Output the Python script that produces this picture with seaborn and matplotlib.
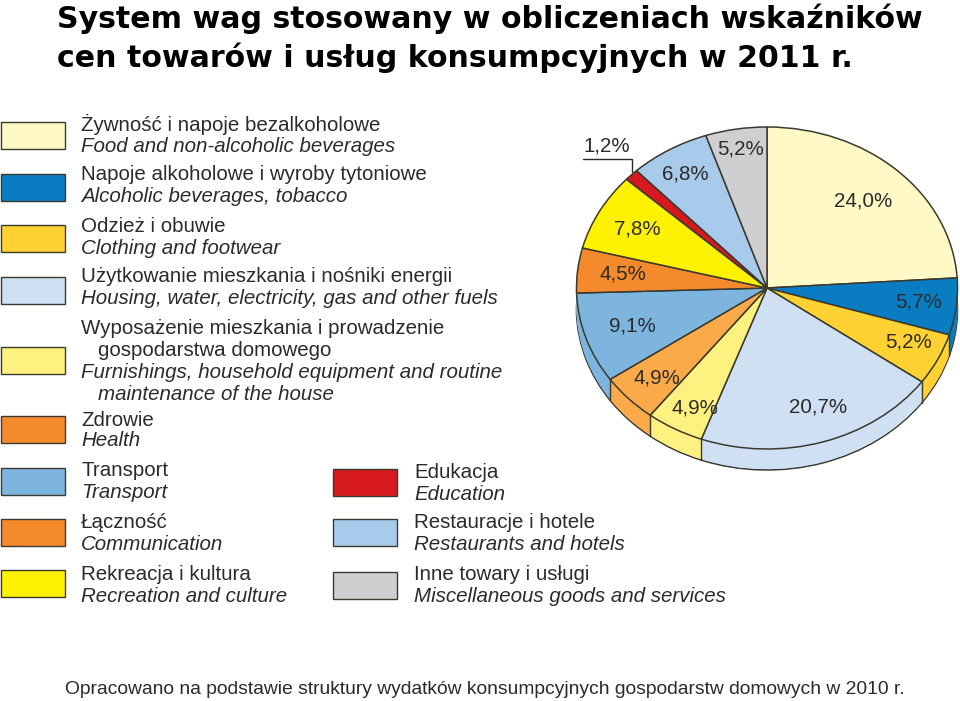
import matplotlib
matplotlib.use("Agg")
import matplotlib.pyplot as plt
from matplotlib.patches import Rectangle
import numpy as np
import seaborn as sns

sns.set_theme(style="white")
plt.rcParams["font.family"] = ["Liberation Sans", "DejaVu Sans"]

# dane z wykresu, kolejnosc jak w legendzie
values = [24.0, 5.7, 5.2, 20.7, 4.9, 4.9, 9.1, 4.5, 7.8, 1.2, 6.8, 5.2]
value_labels = ["24,0%", "5,7%", "5,2%", "20,7%", "4,9%", "4,9%",
                "9,1%", "4,5%", "7,8%", "1,2%", "6,8%", "5,2%"]
pie_colors = ["#FFF9C6", "#0A7DC2", "#FFD133", "#CFE0F3", "#FFF17F", "#FBAA4A",
              "#7DB5DE", "#F58A2C", "#FFF200", "#D6191F", "#A8CAEB", "#CFCFD1"]
legend_colors = ["#FFF9C6", "#0A7DC2", "#FFD133", "#CFE0F3", "#FFF17F", "#F58A2C",
                 "#7DB5DE", "#F58A2C", "#FFF200", "#D6191F", "#A8CAEB", "#CFCFD1"]

title_lines = ["System wag stosowany w obliczeniach wskaźników",
               "cen towarów i usług konsumpcyjnych w 2011 r."]
footer = ("Opracowano na podstawie struktury wydatków konsumpcyjnych "
          "gospodarstw domowych w 2010 r.")

# (tekst, x, y, kursywa)
legend_text = [
    ("Żywność i napoje bezalkoholowe", 81, 124, False),
    ("Food and non-alcoholic beverages", 81, 146, True),
    ("Napoje alkoholowe i wyroby tytoniowe", 81, 175, False),
    ("Alcoholic beverages, tobacco", 81, 196, True),
    ("Odzież i obuwie", 81, 226, False),
    ("Clothing and footwear", 81, 248, True),
    ("Użytkowanie mieszkania i nośniki energii", 81, 277, False),
    ("Housing, water, electricity, gas and other fuels", 81, 299, True),
    ("Wyposażenie mieszkania i prowadzenie", 81, 328, False),
    ("gospodarstwa domowego", 98, 350, False),
    ("Furnishings, household equipment and routine", 81, 372, True),
    ("maintenance of the house", 98, 395, True),
    ("Zdrowie", 81, 420, False),
    ("Health", 81, 441, True),
    ("Transport", 81, 470, False),
    ("Transport", 81, 492, True),
    ("Łączność", 81, 522, False),
    ("Communication", 81, 544, True),
    ("Rekreacja i kultura", 81, 575, False),
    ("Recreation and culture", 81, 597, True),
    ("Edukacja", 414, 472, False),
    ("Education", 414, 494, True),
    ("Restauracje i hotele", 414, 523, False),
    ("Restaurants and hotels", 414, 545, True),
    ("Inne towary i usługi", 414, 574, False),
    ("Miscellaneous goods and services", 414, 596, True),
]
# lewy x, gorny y kazdego kwadratu legendy
swatch_x = [1, 1, 1, 1, 1, 1, 1, 1, 1, 333, 333, 333]
swatch_y = [122, 174, 225, 277, 347, 416, 468, 519, 570, 469, 519, 572]
label_x = [863, 919, 909, 818, 695, 657, 632, 623, 637, 607, 685, 741]
label_y = [201, 302, 342, 407, 408, 378, 326, 274, 229, 146, 174, 149]

W, H = 960, 701
CX, CY, RX, RY, DEPTH = 767, 288, 190.5, 161, 21
INK = "#2B2B2B"
EDGE = "#3A3A2E"

fig = plt.figure(figsize=(W / 100, H / 100), dpi=100)
ax = fig.add_axes([(CX - RX) / W, 1 - (CY + RY) / H, 2 * RX / W, 2 * RY / H])
depth = DEPTH / RY
wedge_kw = dict(clip_on=False, linewidth=0)

# boczna sciana: kilka kolek jedno na drugim
for i, off in enumerate(np.linspace(depth, 0, 23)[:-1]):
    kw = dict(wedge_kw)
    if i == 0:
        kw.update(edgecolor=EDGE, linewidth=1.1)
    ax.pie(values, colors=pie_colors, startangle=90, counterclock=False,
           center=(0, -off), wedgeprops=kw)

# pionowe krawedzie na froncie
angles = np.cumsum(values) / 100 * 2 * np.pi
for a in angles:
    if np.cos(a) < -0.1:
        ax.plot([np.sin(a)] * 2, [np.cos(a), np.cos(a) - depth], color=EDGE,
                lw=1.0, clip_on=False)

ax.pie(values, colors=pie_colors, startangle=90, counterclock=False,
       wedgeprops=dict(clip_on=False, edgecolor=EDGE, linewidth=1.1))
ax.set_aspect("auto")
ax.set_xlim(-1, 1)
ax.set_ylim(-1, 1)

# warstwa w pikselach na teksty i legende
over = fig.add_axes([0, 0, 1, 1], facecolor="none")
over.set_xlim(0, W)
over.set_ylim(H, 0)
over.axis("off")

for line, y in zip(title_lines, [19, 58]):
    over.text(57, y, line, fontsize=21.6, fontweight="bold", color="black",
              family="DejaVu Sans", va="center", ha="left")

for x, y, c in zip(swatch_x, swatch_y, legend_colors):
    over.add_patch(Rectangle((x, y), 64, 27, facecolor=c, edgecolor=EDGE, lw=1.0))

for txt, x, y, ital in legend_text:
    over.text(x, y, txt, fontsize=14.8, color=INK, va="center", ha="left",
              style="italic" if ital else "normal")

for txt, x, y in zip(value_labels, label_x, label_y):
    over.text(x, y, txt, fontsize=14.8, color=INK, va="center", ha="center")

# odnosnik do 1,2%
over.plot([583, 632, 632], [159, 159, 172], color=INK, lw=1.0)

over.text(65, 689, footer, fontsize=13.85, color=INK, va="center", ha="left")

fig.savefig("out.png", dpi=100)
